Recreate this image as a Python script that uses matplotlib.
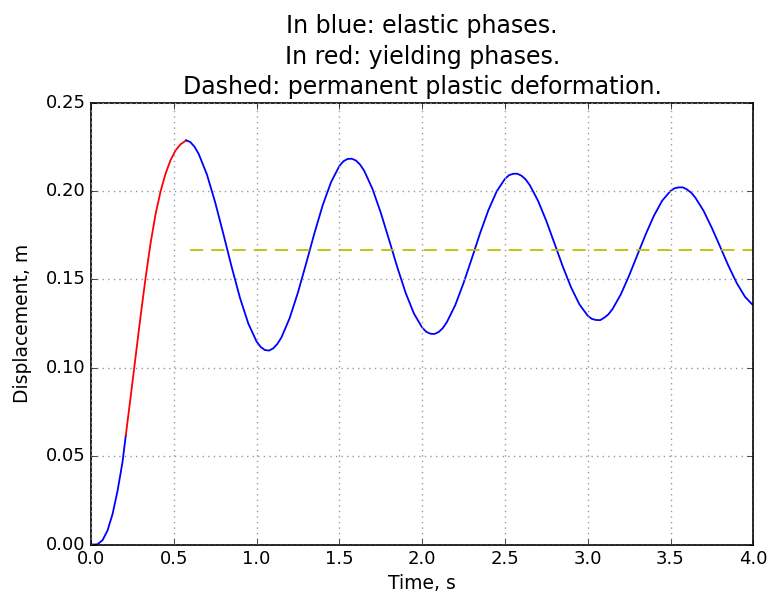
import matplotlib
matplotlib.use('Agg')
import matplotlib.pyplot as plt

# values
# first elastic phase (blue)
t_elastic1 = [0.0, 0.03, 0.04, 0.07, 0.10, 0.13, 0.16, 0.19, 0.21]
d_elastic1 = [0.0, 0.0, 0.0002, 0.0025, 0.008, 0.0172, 0.0302, 0.0465, 0.0617]

# yielding phase (red)
t_yield = [0.21, 0.24, 0.27, 0.30, 0.33, 0.36, 0.39, 0.42, 0.45, 0.48, 0.51, 0.54, 0.575]
d_yield = [0.0617, 0.0840, 0.1068, 0.1296, 0.1511, 0.1706, 0.1869, 0.1997, 0.2097, 0.2173,
           0.2228, 0.2263, 0.2286]

# free elastic oscillation after yielding (blue)
t_elastic2 = [0.575, 0.60, 0.625, 0.65, 0.70, 0.75, 0.80, 0.85, 0.90, 0.95,
              1.00, 1.025, 1.05, 1.075, 1.10, 1.125, 1.15, 1.20, 1.25, 1.30, 1.35, 1.40, 1.45,
              1.50, 1.525, 1.55, 1.575, 1.60, 1.625, 1.65, 1.70, 1.75, 1.80, 1.85, 1.90, 1.95,
              2.00, 2.025, 2.05, 2.075, 2.10, 2.125, 2.15, 2.20, 2.25, 2.30, 2.35, 2.40, 2.45,
              2.50, 2.525, 2.55, 2.575, 2.60, 2.625, 2.65, 2.70, 2.75, 2.80, 2.85, 2.90, 2.95,
              3.00, 3.025, 3.05, 3.075, 3.10, 3.125, 3.15, 3.20, 3.25, 3.30, 3.35, 3.40, 3.45,
              3.50, 3.525, 3.55, 3.575, 3.60, 3.625, 3.65, 3.70, 3.75, 3.80, 3.85, 3.90, 3.95,
              4.00]
d_elastic2 = [0.2286, 0.2276, 0.2250, 0.2210, 0.2093, 0.1935, 0.1754, 0.1568, 0.1394, 0.1250,
              0.1148, 0.1117, 0.1100, 0.1097, 0.1109, 0.1134, 0.1171, 0.1281, 0.1426, 0.1592,
              0.1763, 0.1921, 0.2050,
              0.2141, 0.2168, 0.2181, 0.2182, 0.2172, 0.2149, 0.2114, 0.2011, 0.1877, 0.1724,
              0.1568, 0.1424, 0.1307,
              0.1227, 0.1203, 0.1192, 0.1191, 0.1202, 0.1224, 0.1259, 0.1354, 0.1479, 0.1618,
              0.1761, 0.1891, 0.1997,
              0.2068, 0.2089, 0.2097, 0.2097, 0.2086, 0.2065, 0.2033, 0.1944, 0.1830, 0.1701,
              0.1571, 0.1453, 0.1358,
              0.1294, 0.1276, 0.1270, 0.1269, 0.1283, 0.1302, 0.1332, 0.1415, 0.1521, 0.1638,
              0.1754, 0.1860, 0.1945,
              0.2000, 0.2015, 0.2020, 0.2020, 0.2008, 0.1990, 0.1962, 0.1887, 0.1790, 0.1684,
              0.1576, 0.1479, 0.1401,
              0.1352]

# permanent plastic deformation (dashed)
t_plastic = [0.595, 4.0]
d_plastic = [0.1667, 0.1667]

plt.style.use('classic')
plt.rcParams['font.family'] = ['DejaVu Sans']

fig = plt.figure(figsize=(7.7, 5.96), dpi=100, facecolor='white')
ax = fig.add_axes([0.1182, 0.0864, 0.8601, 0.7416])
ax.set_facecolor('white')

ax.plot(t_elastic1, d_elastic1, color='b', lw=1.3)
ax.plot(t_yield, d_yield, color='r', lw=1.3)
ax.plot(t_elastic2, d_elastic2, color='b', lw=1.3)
ax.plot(t_plastic, d_plastic, color='y', lw=1.3, linestyle='--', dashes=(9.5, 5.8))

ax.set_xlim(0, 4.0)
ax.set_ylim(0, 0.25)
ax.set_xticks([0.0, 0.5, 1.0, 1.5, 2.0, 2.5, 3.0, 3.5, 4.0])
ax.set_yticks([0.00, 0.05, 0.10, 0.15, 0.20, 0.25])
ax.set_yticklabels(['0.00', '0.05', '0.10', '0.15', '0.20', '0.25'])
ax.tick_params(labelsize=13, direction='in', top=True, right=True)
ax.grid(True, color='0.6', linestyle=':', lw=1.0)
for s in ax.spines.values():
    s.set_linewidth(1.2)

ax.set_xlabel('Time, s', fontsize=13.5, labelpad=4)
ax.set_ylabel('Displacement, m', fontsize=13.5, labelpad=10)
ax.set_title('In blue: elastic phases.\nIn red: yielding phases.\n'
             'Dashed: permanent plastic deformation.', fontsize=17, pad=6,
             linespacing=1.35)

fig.savefig('out.png', dpi=100, facecolor='white')
